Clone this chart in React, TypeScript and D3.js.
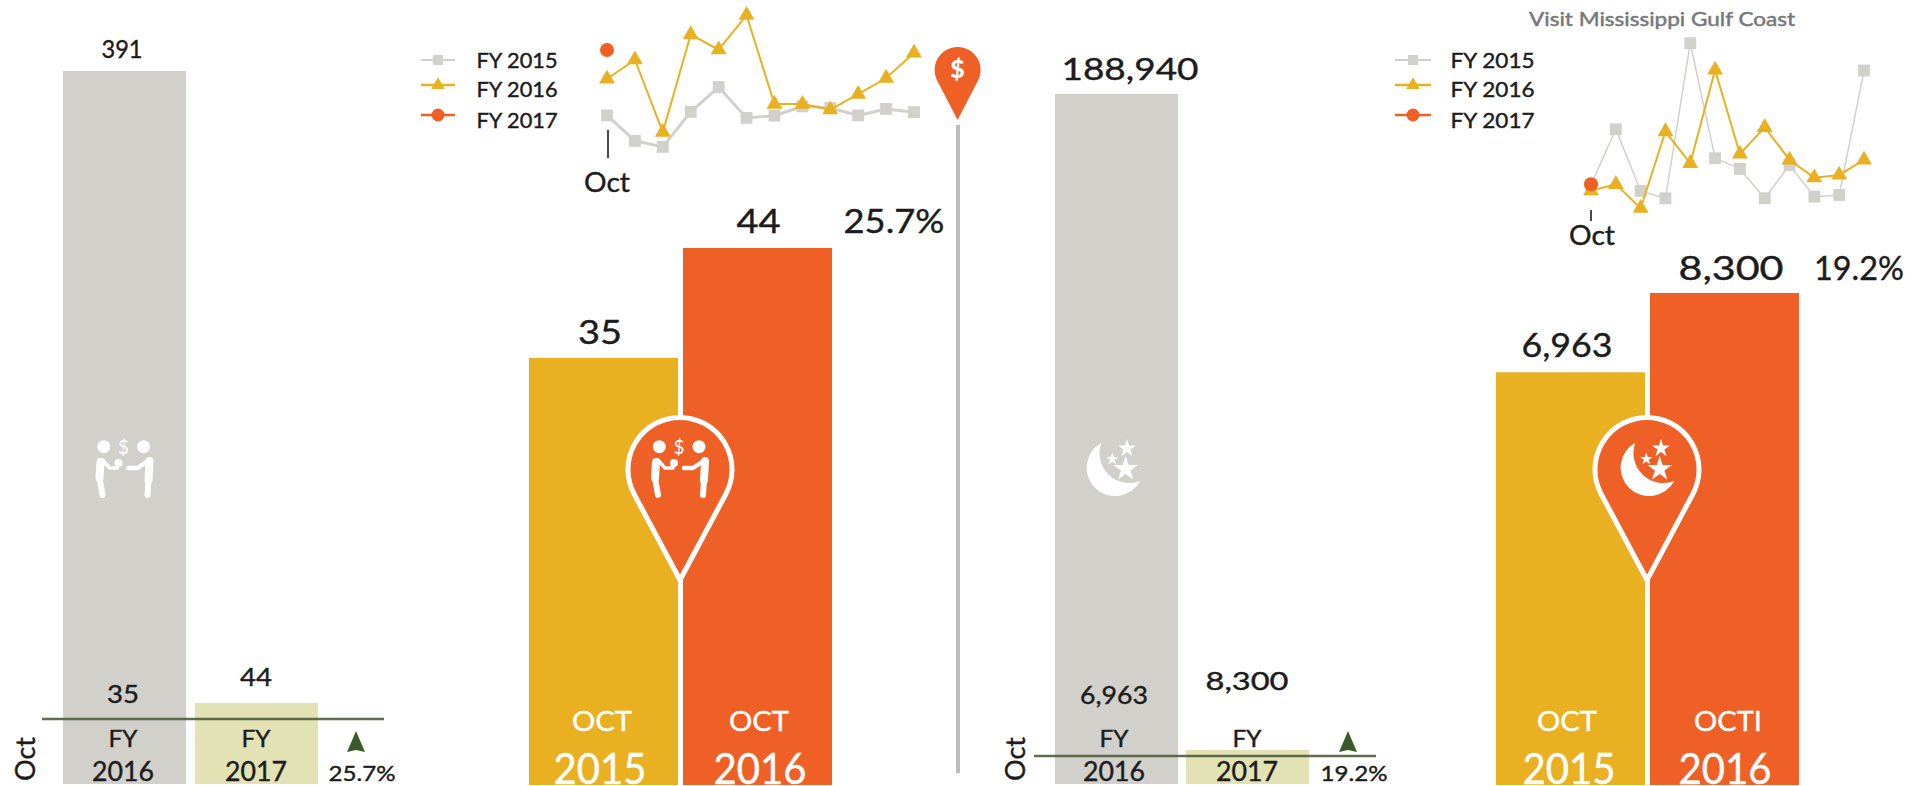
import React from "react";
import * as d3 from "d3";

const GRAY = "#d1d0cb";
const OLIVE = "#e2e2b4";
const YELLOW = "#e9b121";
const ORANGE = "#ee6026";
const INK = "#1c1c1c";
const FONT = "Lato, sans-serif";

const months = ["Oct","Nov","Dec","Jan","Feb","Mar","Apr","May","Jun","Jul","Aug","Sep"];

// Leads panel
const leads2015 = [23.7,15.8,13.9,24.8,32.5,22.9,23.6,26.5,26,23.7,25.7,24.7];
const leads2016 = [35,41,18.5,48.8,44.1,54.8,27.2,27.2,25.5,30.3,35.3,43.1];
const leads2017 = [44];
const leadsOverview = [391, 44];
const leadsOct = [35, 44];

// Room nights panel
const nights2015 = [8160,19880,6900,5350,38000,13780,11530,5350,12370,5700,6050,32240];
const nights2016 = [6963,8300,3250,19400,12720,32380,14690,20300,13420,9700,10270,13420];
const nights2017 = [8300];
const nightsOverview = [188940, 8300];
const nightsOct = [6963, 8300];

const legendLabels = ["FY 2015", "FY 2016", "FY 2017"];

function T({ x, y, size, children, fill = INK, anchor = "middle", w, rot, weight = 400, bold = 0.4 }: any) {
  return (
    <text x={rot ? 0 : x} y={rot ? 0 : y} transform={rot ? `translate(${x},${y}) rotate(${rot})` : undefined}
      fontFamily={FONT} fontSize={size} fill={fill} textAnchor={anchor} fontWeight={weight}
      stroke={fill} strokeWidth={bold}
      textLength={w} lengthAdjust={w ? "spacingAndGlyphs" : undefined}>{children}</text>
  );
}

function pinPath(cx: number, top: number, tip: number, r: number) {
  const cy = top + r;
  const a = Math.acos(r / (tip - cy));
  const dx = r * Math.sin(a), dy = r * Math.cos(a);
  return `M${cx},${tip}L${cx - dx},${cy + dy}A${r},${r} 0 1 1 ${cx + dx},${cy + dy}Z`;
}

function People({ cx, fill }: any) {
  return (
    <g transform={`translate(${cx},0)`} fill={fill} stroke="none">
      <circle cx={-20.7} cy={446.7} r={6.5} />
      <circle cx={19} cy={446.7} r={6.5} />
      <circle cx={-6} cy={463} r={4} />
      <g fill="none" stroke={fill} strokeLinecap="round" strokeLinejoin="round">
        <path d="M-24,462L-25,478" strokeWidth={8} />
        <path d="M-25,478L-22,495" strokeWidth={6} />
        <path d="M-22,460L-15,468L-7,468" strokeWidth={3.5} />
        <path d="M25,461L24,480" strokeWidth={8} />
        <path d="M24,480L23,495" strokeWidth={6} />
        <path d="M22,462L13,468L4,468" strokeWidth={4.5} />
      </g>
      <text x={-1} y={454} fontFamily={FONT} fontSize={19} textAnchor="middle" fill={fill}>$</text>
    </g>
  );
}

function Moon({ cx, fill }: any) {
  const star = (size: number) => d3.symbol(d3.symbolStar, size)() as string;
  return (
    <g transform={`translate(${cx},0)`} fill={fill}>
      <path d="M-11.7,442.7A28.5,28.5 0 1 0 27.3,481A30,30 0 0 1 -11.7,442.7Z" />
      <path d={star(190)} transform="translate(12.7,469)" />
      <path d={star(100)} transform="translate(14,448.5)" />
      <path d={star(48)} transform="translate(-0.7,459)" />
    </g>
  );
}

function Overview({ x0, x1, y, values, barW, bottom, sub, lineY, lineX, labelX, labelYs, pct, triX, pctX, octX, icon, topLabel }: any) {
  return (
    <g>
      <rect x={x0} y={y(values[0])} width={barW} height={bottom - y(values[0])} fill={GRAY} />
      <rect x={x1} y={y(values[1])} width={barW} height={bottom - y(values[1])} fill={OLIVE} />
      {icon}
      <line x1={lineX[0]} x2={lineX[1]} y1={lineY} y2={lineY} stroke="#4f5e3c" strokeWidth={2.5} opacity={0.9} />
      <T x={topLabel.x} y={topLabel.y} size={topLabel.size} w={topLabel.w}>{d3.format(",")(values[0])}</T>
      <T x={labelX[0]} y={labelYs[0]} size={25} w={labelYs[2]}>{sub[0]}</T>
      <T x={labelX[1]} y={labelYs[1]} size={25} w={labelYs[3]}>{sub[1]}</T>
      <T x={labelX[0]} y={747} size={23} w={29}>FY</T>
      <T x={labelX[1]} y={747} size={23} w={29}>FY</T>
      <T x={labelX[0]} y={781} size={26} w={62}>2016</T>
      <T x={labelX[1]} y={781} size={26} w={62}>2017</T>
      <path d={`M${triX},731L${triX + 9},752L${triX},750L${triX - 9},752Z`} fill="#3d5a2c" />
      <T x={pctX} y={781} size={22} w={67}>{pct}</T>
      <T x={octX} y={781} size={26} rot={-90} anchor="start" w={44}>Oct</T>
    </g>
  );
}

function OctBars({ x, w, y, values, bottom, labels, vals, pct, pctPos, icon, pinX }: any) {
  return (
    <g>
      {values.map((v: number, i: number) => (
        <rect key={i} x={x[i]} y={y(v)} width={w} height={bottom - y(v)} fill={i === 0 ? YELLOW : ORANGE} />
      ))}
      <T x={vals[0].x} y={vals[0].y} size={33} w={vals[0].w}>{d3.format(",")(values[0])}</T>
      <T x={vals[1].x} y={vals[1].y} size={33} w={vals[1].w}>{d3.format(",")(values[1])}</T>
      <T x={pctPos.x} y={pctPos.y} size={33} w={pctPos.w}>{pct}</T>
      {labels.map((l: any, i: number) => (
        <g key={i}>
          <T x={l.x} y={731} size={27} fill="#fff" w={l.w1}>{l.top}</T>
          <T x={l.x2} y={784} size={42} fill="#fff" w={93}>{l.year}</T>
        </g>
      ))}
      <path d={pinPath(pinX, 417.5, 580, 52)} fill={ORANGE} stroke="#fff" strokeWidth={5} strokeLinejoin="round" />
      {icon}
    </g>
  );
}

function Spark({ x, y, s15, s16, s17, w15, legendX, textX, letter, tick, oct }: any) {
  const line = d3.line<number>().x((_, i) => x(months[i])!).y((d) => y(d));
  const sq = d3.symbol(d3.symbolSquare, 140)() as string;
  const tri = d3.symbol(d3.symbolTriangle, 110)() as string;
  const legendYs = [60, 85, 115];
  const textYs = [68, 97, 128];
  return (
    <g>
      <path d={line(s15)!} fill="none" stroke={GRAY} strokeWidth={w15} />
      {s15.map((d: number, i: number) => (
        <path key={i} d={sq} fill={GRAY} transform={`translate(${x(months[i])},${y(d)})`} />
      ))}
      <path d={line(s16)!} fill="none" stroke={YELLOW} strokeWidth={2} />
      {s16.map((d: number, i: number) => (
        <path key={i} d={tri} fill={YELLOW} transform={`translate(${x(months[i])},${y(d)})`} />
      ))}
      {s17.map((d: number, i: number) => (
        <circle key={i} cx={x(months[i])} cy={y(d)} r={7} fill={ORANGE} />
      ))}
      <line x1={tick.x} x2={tick.x} y1={tick.y0} y2={tick.y1} stroke={INK} strokeWidth={1.6} />
      <T x={oct.x} y={oct.y} size={26} w={46}>Oct</T>
      {legendLabels.map((l, i) => {
        const c = [GRAY, YELLOW, ORANGE][i];
        const my = legendYs[i];
        const mx = (legendX[0] + legendX[1]) / 2;
        return (
          <g key={l}>
            <line x1={legendX[0]} x2={legendX[1]} y1={my} y2={my} stroke={c} strokeWidth={i === 0 ? 2 : 2.5} />
            {i === 0 && <path d={d3.symbol(d3.symbolSquare, 100)() as string} fill={c} transform={`translate(${mx},${my})`} />}
            {i === 1 && <path d={d3.symbol(d3.symbolTriangle, 80)() as string} fill={c} transform={`translate(${mx},${my})`} />}
            {i === 2 && <circle cx={mx} cy={my} r={6.5} fill={c} />}
            <T x={textX} y={textYs[i]} size={21} anchor="start" w={letter}>{l}</T>
          </g>
        );
      })}
    </g>
  );
}

export default function App() {
  const yOver1 = d3.scaleLinear().domain([0, 391]).range([783, 71]);
  const yOver2 = d3.scaleLinear().domain([0, 188940]).range([780, 94]);
  const yOct1 = d3.scaleLinear().domain([0, 44]).range([785, 248]);
  const yOct2 = d3.scaleLinear().domain([0, 8300]).range([785, 293]);
  const xSpark1 = d3.scalePoint<string>().domain(months).range([607, 914]);
  const xSpark2 = d3.scalePoint<string>().domain(months).range([1591, 1864]);
  const ySpark1 = d3.scaleLinear().domain([0, 60]).range([191.7, -1.5]);
  const ySpark2 = d3.scaleLinear().domain([0, 40000]).range([223.7, 33.7]);

  return (
    <svg width={1912} height={786} viewBox="0 0 1912 786"
      style={{ position: "fixed", left: 0, top: 0, display: "block", background: "#fff" }}>
      <Overview x0={63} x1={195} barW={123} y={yOver1} bottom={784} values={leadsOverview}
        sub={["35", "44"]} lineY={719} lineX={[42, 384]} labelX={[123, 256]}
        labelYs={[703, 686, 32, 32]} pct="25.7%" triX={356} pctX={362} octX={35}
        topLabel={{ x: 122, y: 58, size: 25, w: 41 }}
        icon={<People cx={124.5} fill="#fff" />} />
      <Overview x0={1055} x1={1186} barW={123} y={yOver2} bottom={784} values={nightsOverview}
        sub={["6,963", "8,300"]} lineY={756} lineX={[1034, 1376]} labelX={[1114, 1247]}
        labelYs={[704, 690, 68, 83]} pct="19.2%" triX={1348} pctX={1354} octX={1025}
        topLabel={{ x: 1130, y: 80, size: 31, w: 137 }}
        icon={<Moon cx={1113} fill="#fff" />} />

      <OctBars x={[529, 683]} w={149} y={yOct1} values={leadsOct} bottom={785} pct="25.7%"
        vals={[{ x: 600, y: 344, w: 44 }, { x: 758.6, y: 233, w: 44 }]}
        pctPos={{ x: 894, y: 233, w: 101 }} pinX={680}
        labels={[{ x: 602, x2: 600, top: "OCT", year: "2015", w1: 60 }, { x: 759, x2: 760, top: "OCT", year: "2016", w1: 60 }]}
        icon={<People cx={680} fill="#fff" />} />
      <OctBars x={[1496, 1650]} w={149} y={yOct2} values={nightsOct} bottom={785} pct="19.2%"
        vals={[{ x: 1567, y: 357, w: 91 }, { x: 1731, y: 280, w: 105 }]}
        pctPos={{ x: 1859, y: 280, w: 90 }} pinX={1647}
        labels={[{ x: 1567, x2: 1569, top: "OCT", year: "2015", w1: 60 }, { x: 1728, x2: 1725, top: "OCTI", year: "2016", w1: 68 }]}
        icon={<Moon cx={1647} fill="#fff" />} />

      <Spark x={xSpark1} y={ySpark1} s15={leads2015} s16={leads2016} s17={leads2017} w15={3}
        legendX={[421, 455]} textX={476.5} letter={81}
        tick={{ x: 608, y0: 130, y1: 158 }} oct={{ x: 607, y: 192 }} />
      <Spark x={xSpark2} y={ySpark2} s15={nights2015} s16={nights2016} s17={nights2017} w15={1.5}
        legendX={[1395, 1431]} textX={1450.6} letter={84}
        tick={{ x: 1591, y0: 210, y1: 221 }} oct={{ x: 1592, y: 245 }} />

      <T x={1662} y={26} size={20} fill="#77787a" w={266} bold={0.5}>Visit Mississippi Gulf Coast</T>

      <line x1={958} x2={958} y1={125} y2={773} stroke="#bdbdbb" strokeWidth={4} />
      <path d={pinPath(957.6, 47, 120, 23)} fill={ORANGE} />
      <text x={957.6} y={78} fontFamily={FONT} fontSize={25} fontWeight={900} fill="#fff" textAnchor="middle">$</text>
    </svg>
  );
}
